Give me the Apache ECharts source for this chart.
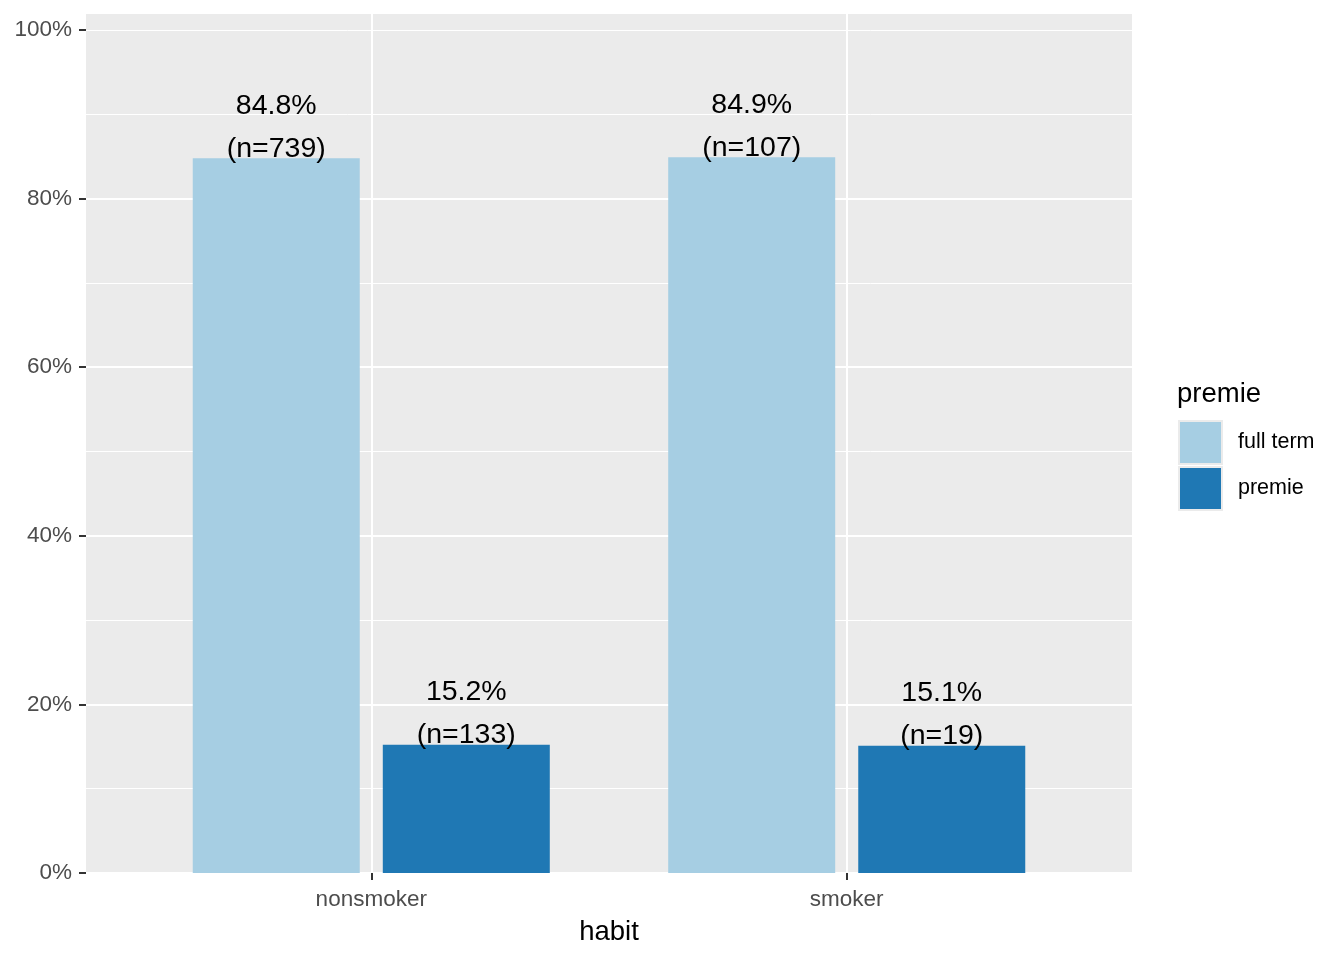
<!DOCTYPE html>
<html>
<head>
<meta charset="utf-8">
<script src="https://cdn.jsdelivr.net/npm/echarts@6/dist/echarts.min.js"></script>
<style>
html,body{margin:0;padding:0;background:#fff;}
#chart{width:1344px;height:960px;}
</style>
</head>
<body>
<div id="chart"></div>
<script>
// ---- data ----
const categories = ['nonsmoker', 'smoker'];
const seriesNames = ['full term', 'premie'];
const fullTermPct = [84.8, 84.9];
const fullTermN = [739, 107];
const premiePct = [15.2, 15.1];
const premieN = [133, 19];
const yTicks = [0, 20, 40, 60, 80, 100];

const FONT = 'Liberation Sans, Arial, sans-serif';
const colors = ['#A6CEE3', '#1F78B4'];

function mkData(pct, n) {
  return pct.map((v, i) => ({ value: [i + 1, v], n: n[i] }));
}
const labelOpt = {
  show: true,
  position: 'top',
  distance: -12,
  fontFamily: FONT,
  fontSize: 28.5,
  lineHeight: 43,
  color: '#000',
  formatter: p => p.value[1].toFixed(1) + '%\n(n=' + p.data.n + ')'
};

const chart = echarts.init(document.getElementById('chart'), null, { renderer: 'canvas' });
chart.setOption({
  animation: false,
  backgroundColor: '#fff',
  grid: { left: 86, right: 212, top: 14, bottom: 87, show: true, backgroundColor: '#EBEBEB', borderWidth: 0 },
  xAxis: {
    type: 'value', min: 0.4, max: 2.6,
    axisLine: { show: false },
    splitLine: { show: false },
    axisTick: { show: true, customValues: categories.map((c, i) => i + 1), length: 7, lineStyle: { color: '#333', width: 2 } },
    axisLabel: {
      customValues: categories.map((c, i) => i + 1),
      formatter: v => categories[Math.round(v) - 1] || '',
      color: '#4D4D4D', fontSize: 22.5, fontFamily: FONT, margin: 15
    }
  },
  yAxis: [{
    type: 'value', min: 0, max: 101.9, interval: 20,
    axisLine: { show: false },
    axisTick: { show: true, customValues: yTicks, length: 7, lineStyle: { color: '#333', width: 2 } },
    axisLabel: { customValues: yTicks, formatter: v => v + '%', color: '#4D4D4D', fontSize: 22.5, fontFamily: FONT, margin: 14, padding: [6, 0, 0, 0] },
    splitLine: { show: true, showMaxLine: false, lineStyle: { color: '#fff', width: 2 } }
  }, {
    type: 'value', min: 0, max: 101.9, interval: 10, position: 'right',
    axisLine: { show: false }, axisTick: { show: false }, axisLabel: { show: false },
    splitLine: { show: true, showMaxLine: false, lineStyle: { color: '#fff', width: 1 } }
  }],
  legend: {
    orient: 'vertical', left: 1178, top: 420, padding: 0,
    itemWidth: 43, itemHeight: 43, itemGap: 1,
    icon: 'rect',
    data: seriesNames,
    itemStyle: { borderColor: '#EBEBEB', borderWidth: 2 },
    textStyle: { fontFamily: FONT, fontSize: 21.5, color: '#000', padding: [0, 0, 0, 11] }
  },
  graphic: [
    { type: 'text', left: 1177, top: 380, style: { text: 'premie', fontFamily: FONT, fontSize: 27.5, fill: '#000' } },
    { type: 'text', x: 609, y: 932, style: { text: 'habit', fontFamily: FONT, fontSize: 27.5, fill: '#000', align: 'center', verticalAlign: 'middle' } }
  ],
  series: [
    {
      type: 'line', data: [], z: 1, silent: true,
      markLine: {
        silent: true, symbol: 'none', label: { show: false },
        lineStyle: { color: '#fff', width: 2, type: 'solid' },
        data: categories.map((c, i) => ({ xAxis: i + 1 }))
      }
    },
    {
      name: seriesNames[0], type: 'bar', z: 2, barWidth: 167, barGap: '13.8%',
      itemStyle: { color: colors[0] },
      data: mkData(fullTermPct, fullTermN), label: labelOpt
    },
    {
      name: seriesNames[1], type: 'bar', z: 2, barWidth: 167, barGap: '13.8%',
      itemStyle: { color: colors[1] },
      data: mkData(premiePct, premieN), label: labelOpt
    }
  ]
});
</script>
</body>
</html>
